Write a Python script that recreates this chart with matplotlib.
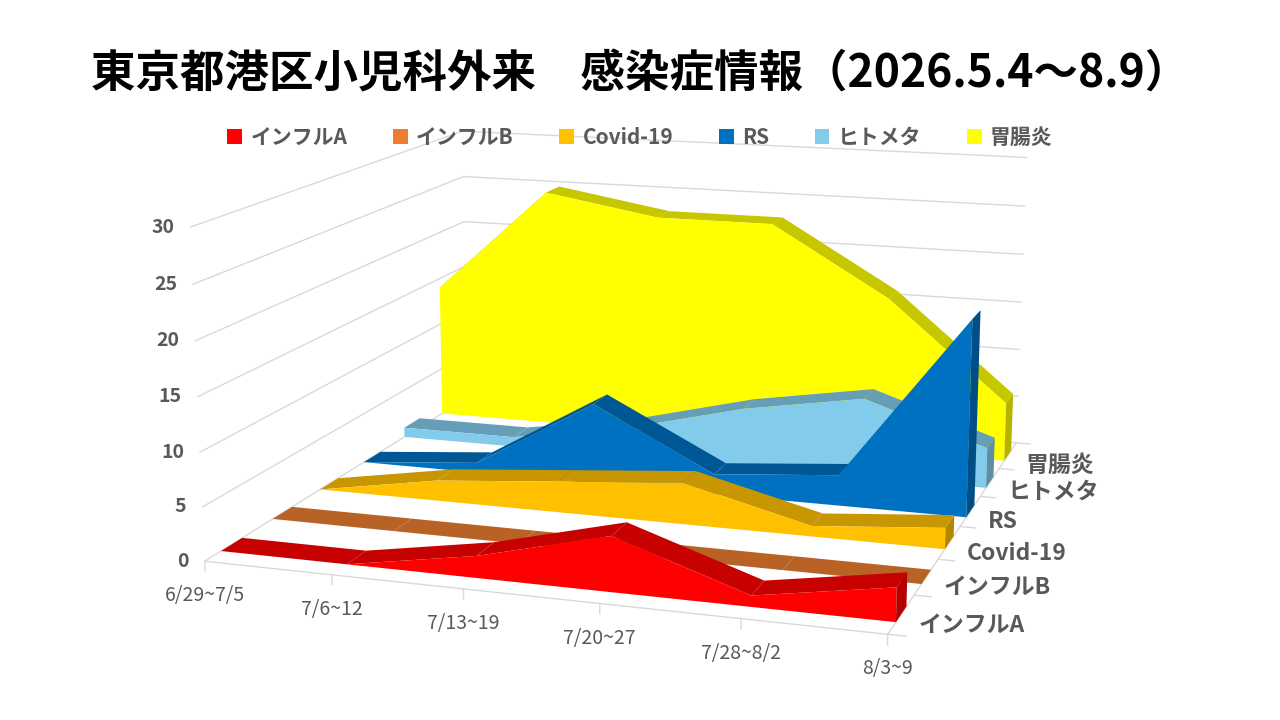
import numpy as np
import matplotlib.pyplot as plt
from matplotlib.patches import Patch
from matplotlib.colors import to_rgb
from mpl_toolkits.mplot3d import proj3d
from mpl_toolkits.mplot3d.art3d import Poly3DCollection

plt.rcParams['font.family'] = ['Noto Sans CJK JP', 'DejaVu Sans']

title = "東京都港区小児科外来　感染症情報（2026.5.4～8.9）"
weeks = ["6/29~7/5", "7/6~12", "7/13~19", "7/20~27", "7/28~8/2", "8/3~9"]
series_names = ["インフルA", "インフルB", "Covid-19", "RS", "ヒトメタ", "胃腸炎"]

flu_a = [0, 0, 2, 5, 1, 3]
flu_b = [0, 0, 0, 0, 0, 0]
covid = [0, 2, 3, 4, 1, 2]
rs = [0, 1, 8, 2, 3, 19]
hmpv = [1, 1, 3, 6, 8, 4]
gastro = [14, 25, 23, 23, 16, 6]

values = [flu_a, flu_b, covid, rs, hmpv, gastro]
colors = ["#FF0000", "#ED7D31", "#FFC000", "#0070C0", "#83CBEB", "#FFFF00"]
z_ticks = [0, 5, 10, 15, 20, 25, 30]

text_gray = "#595959"
grid_gray = "#D9D9D9"


def shade(c, f):
    r, g, b = to_rgb(c)
    return (r * f, g * f, b * f)


fig = plt.figure(figsize=(12.8, 7.2), dpi=100)
ax = fig.add_axes([-0.004, 0.058, 1.0, 0.9], projection='3d', computed_zorder=False)
ax.set_proj_type('persp', focal_length=0.7)
ax.view_init(elev=13, azim=-72)
ax.set_box_aspect((780, 782, 380), zoom=1.455)
n = len(weeks)
xmax = n - 1
ymax = len(series_names)
ax.set_xlim(0, xmax)
ax.set_ylim(0, ymax)
ax.set_zlim(0, 30)
ax.set_axis_off()


def line3d(xs, ys, zs):
    ax.plot(xs, ys, zs, color=grid_gray, lw=1, zorder=1, clip_on=False)


# gridlines on the side wall and back wall
for z in z_ticks:
    line3d([0, 0, xmax], [0, ymax, ymax], [z, z, z])
line3d([0, xmax], [0, 0], [0, 0])
line3d([xmax, xmax], [0, ymax], [0, 0])
for k in range(n):
    line3d([k, k], [0, 0], [0, -0.9])
for j in range(ymax + 1):
    line3d([xmax, xmax + 0.12], [j, j], [0, 0])


def add_poly(polys, color, zo):
    pc = Poly3DCollection(polys, facecolors=[color] * len(polys), edgecolors='none')
    pc.set_zorder(zo)
    pc.set_clip_on(False)
    ax.add_collection3d(pc)


# one ribbon per series, drawn back to front
x = np.arange(n)
for i in reversed(range(len(values))):
    v = values[i]
    yf, yb = i + 0.3, i + 0.7
    zo = 10 + (len(values) - 1 - i) * 4
    tops = [[(x[k], yf, v[k]), (x[k + 1], yf, v[k + 1]),
             (x[k + 1], yb, v[k + 1]), (x[k], yb, v[k])] for k in range(n - 1)]
    add_poly(tops, shade(colors[i], 0.78), zo)
    front = [(0, yf, 0)] + [(x[k], yf, v[k]) for k in range(n)] + [(xmax, yf, 0)]
    add_poly([front], colors[i], zo + 1)
    cap = [(xmax, yf, 0), (xmax, yf, v[-1]), (xmax, yb, v[-1]), (xmax, yb, 0)]
    add_poly([cap], shade(colors[i], 0.7), zo + 2)

fig.canvas.draw()


def to_px(px, py, pz):
    xs, ys, _ = proj3d.proj_transform(px, py, pz, ax.get_proj())
    return ax.transData.transform((xs, ys))


for z in z_ticks:
    p = to_px(0, 0, z)
    fig.text(p[0] - 16, p[1], str(z), transform=None, ha='right', va='center',
             fontsize=14, color=text_gray, fontweight='bold')
for k in range(n):
    p = to_px(k, 0, 0)
    fig.text(p[0], p[1] - 24, weeks[k], transform=None, ha='center', va='top',
             fontsize=14, color=text_gray)
for i in range(ymax):
    p = to_px(xmax, i + 0.5, -1.0)
    fig.text(p[0] + 18, p[1], series_names[i], transform=None, ha='left', va='center',
             fontsize=16.5, color=text_gray, fontweight='bold')

fig.text(0.5, 1 - 75 / 720, title, ha='center', va='center', fontsize=32,
         fontweight='bold', color='black')

handles = [Patch(facecolor=c, edgecolor='none') for c in colors]
fig.legend(handles, series_names, loc='center', bbox_to_anchor=(0.5, 1 - 137 / 720),
           ncol=6, frameon=False, handlelength=0.7, handleheight=0.7,
           handletextpad=0.4, columnspacing=2.2, labelcolor=text_gray,
           prop={'weight': 'bold', 'size': 15})

fig.savefig("out.png", dpi=100)
